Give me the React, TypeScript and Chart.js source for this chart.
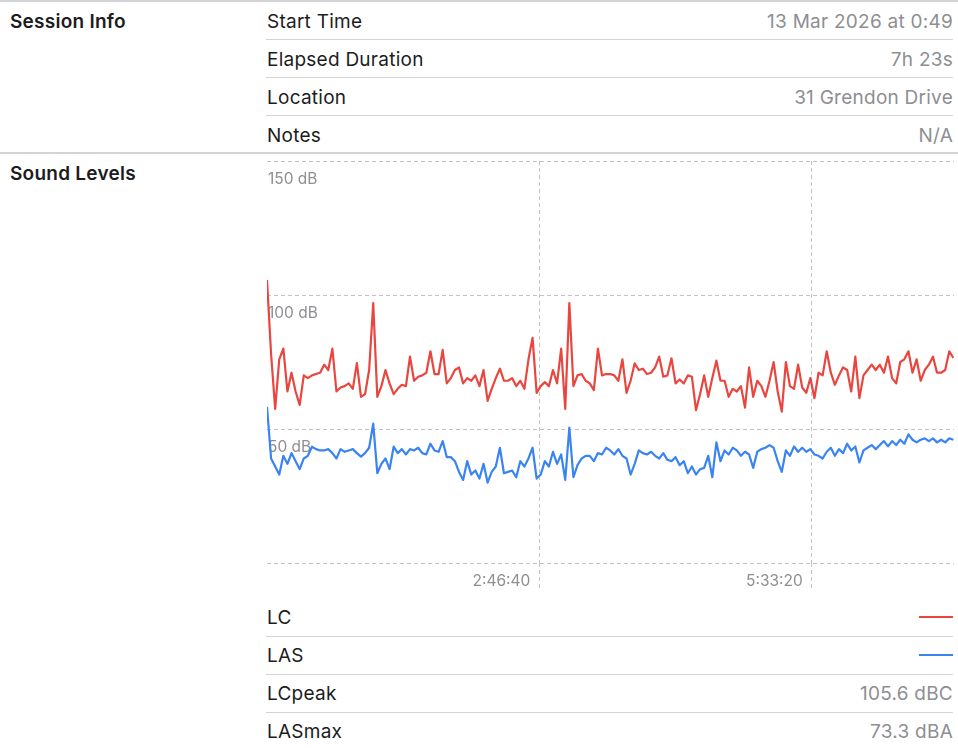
import React, { useEffect, useRef } from 'react';
import { Chart, registerables } from 'chart.js';

Chart.register(...registerables);

// ---------- data ----------
const infoLabels = ['Start Time', 'Elapsed Duration', 'Location', 'Notes'];
const infoValues = ['13 Mar 2026 at 0:49', '7h 23s', '31 Grendon Drive', 'N/A'];

const SAMPLE_SECONDS = 150;
const DURATION_SECONDS = 25223;

const lcValues = [
  105.6, 78, 57.5, 76, 80, 64, 71, 64, 59, 70,
  69, 70, 70.5, 71, 74, 72, 80, 64, 65.5, 66,
  67, 65, 74.6, 62, 63, 72, 97, 62, 66, 72,
  67, 63, 65, 66.5, 66, 77, 68, 69.5, 70, 71,
  79, 70.5, 70.5, 79.5, 67, 69, 72, 73, 67, 69,
  68, 70, 66, 72, 60.5, 65, 69, 72.5, 68, 68,
  69, 66, 68, 65, 76, 84, 63.5, 66, 67.5, 66,
  72, 67, 80, 57.5, 97, 66, 70, 70.5, 68, 67,
  64.5, 80, 70, 70.5, 70.5, 70, 68, 76, 63.5, 68,
  74.5, 72, 72.5, 70.5, 71, 73, 77, 69.5, 70, 76.4,
  67, 68.5, 67, 70, 69.5, 57, 63, 70, 62, 69,
  75.5, 68, 68, 62, 65, 64, 66, 58, 73, 62,
  68, 66, 62, 68, 75, 64, 56.5, 75, 66, 65,
  74, 65.5, 63.5, 69, 61.5, 71, 70, 79, 71, 66.5,
  70, 73, 72, 64, 77, 61.5, 70, 72, 74, 72,
  74, 71, 77, 69, 67, 75, 76, 79, 71, 76,
  68, 72, 74, 77, 71, 71, 72, 79, 76.5,
];

const lasValues = [
  58.3, 39, 36, 33, 40, 37, 41, 38, 35, 39,
  40, 43.4, 42.5, 42, 42, 42.5, 41, 39, 42.5, 41.5,
  42, 42.5, 41, 39.7, 41, 43, 52, 33.5, 37, 39,
  35, 43.4, 41, 42.5, 40.5, 42.5, 42, 43, 41, 40.5,
  44.5, 42, 41.5, 45.5, 39.5, 39.5, 38, 34, 31, 38,
  33, 34.5, 31.5, 37, 30, 34, 36, 43, 33.5, 34,
  34.5, 32, 38, 36, 39, 43, 31.5, 33, 38, 36,
  41.5, 37, 40.5, 31, 50.5, 32, 36.5, 39, 40, 40,
  38, 41, 40.5, 43, 42, 40.5, 42.5, 40, 39, 33,
  37, 42, 41, 40.5, 41.5, 40, 39, 41, 38.5, 38,
  39.5, 36.5, 38, 33.5, 36, 33, 35, 35.5, 40, 32,
  45, 38, 42, 40.5, 43, 42, 40, 41.5, 40.5, 35.5,
  41.5, 42.5, 43, 44, 43, 38, 34, 42, 40, 43.5,
  41.5, 43, 41.5, 42.5, 40.5, 40, 39, 41.5, 43, 40,
  42.5, 41, 44.5, 42, 43.5, 37.5, 42, 43, 44, 42.5,
  44, 45.5, 43.5, 45.5, 44, 46, 44.5, 48, 46, 45,
  46, 46.5, 45.5, 46.5, 45, 46, 45, 46.5, 46,
];

const seriesLabels = ['LC', 'LAS'];
const seriesColors = ['#e8463f', '#3a84f2'];

const xTickValues = [10000, 20000];
const xTickLabels = ['2:46:40', '5:33:20'];
const yTickValues = [0, 50, 100, 150];
const yTickLabels = ['', '50 dB', '100 dB', '150 dB'];

const statLabels = ['LCpeak', 'LASmax'];
const statValues = ['105.6 dBC', '73.3 dBA'];

// ---------- styles ----------
const FONT = 'Inter, "Noto Sans", sans-serif';
const TEXT = '#1c1c1e';
const GRAY = '#8e8e93';
const SEP = '#d4d4d6';
const GRID = '#c2c2c4';
const TEXT_SIZE = 19;
const LETTER = '0.25px';

const SoundChart: React.FC = () => {
  const ref = useRef<HTMLCanvasElement | null>(null);
  useEffect(() => {
    if (!ref.current) return;
    const toPoints = (vals: number[]) => vals.map((v, i) => ({ x: i * SAMPLE_SECONDS, y: v }));
    const chart = new Chart(ref.current, {
      type: 'line',
      data: {
        datasets: [lcValues, lasValues].map((vals, k) => ({
          label: seriesLabels[k],
          data: toPoints(vals),
          borderColor: seriesColors[k],
          backgroundColor: seriesColors[k],
          borderWidth: 2.2,
          pointRadius: 0,
          tension: 0,
          fill: false,
          borderJoinStyle: 'round' as const,
        })),
      },
      options: {
        animation: false,
        responsive: false,
        maintainAspectRatio: false,
        layout: { padding: { left: 5, right: 4, top: 11, bottom: 0 } },
        plugins: { legend: { display: false }, tooltip: { enabled: false } },
        scales: {
          x: {
            type: 'linear',
            min: 0,
            max: DURATION_SECONDS,
            afterBuildTicks: (s: any) => {
              s.ticks = xTickValues.map((v) => ({ value: v }));
            },
            afterFit: (s: any) => {
              s.height = 32;
            },
            grid: {
              color: GRID,
              lineWidth: 1,
              tickLength: 27,
              tickColor: GRID,
              tickBorderDash: [4, 3],
            },
            border: { display: false, dash: [4, 3] },
            ticks: {
              autoSkip: false,
              maxRotation: 0,
              align: 'end',
              labelOffset: -9,
              padding: -18,
              color: GRAY,
              font: { family: FONT, size: 15.5 },
              callback: (v: any) => {
                const i = xTickValues.indexOf(Number(v));
                return i >= 0 ? xTickLabels[i] : '';
              },
            },
          },
          y: {
            min: 0,
            max: 150,
            afterBuildTicks: (s: any) => {
              s.ticks = yTickValues.map((v) => ({ value: v }));
            },
            afterFit: (s: any) => {
              s.width = 0;
            },
            grid: { color: GRID, lineWidth: 1, drawTicks: false },
            border: { display: false, dash: [4, 3] },
            ticks: {
              mirror: true,
              padding: 1,
              labelOffset: 18,
              color: GRAY,
              font: { family: FONT, size: 15.5 },
              callback: (v: any) => {
                const i = yTickValues.indexOf(Number(v));
                return i >= 0 ? yTickLabels[i] : '';
              },
            },
          },
        },
      } as any,
    });
    return () => chart.destroy();
  }, []);
  return (
    <canvas
      ref={ref}
      width={696}
      height={445}
      style={{ position: 'absolute', left: 262, top: 150, width: 696, height: 445 }}
    />
  );
};

const Row: React.FC<{ top: number; label: string; value?: string; swatch?: string }> = ({ top, label, value, swatch }) => (
  <div
    style={{
      position: 'absolute',
      left: 267,
      top,
      width: 686,
      height: 38,
      display: 'flex',
      alignItems: 'center',
      justifyContent: 'space-between',
      fontSize: TEXT_SIZE,
      letterSpacing: LETTER,
    }}
  >
    <span style={{ color: TEXT }}>{label}</span>
    {value !== undefined && <span style={{ color: GRAY }}>{value}</span>}
    {swatch && <span style={{ display: 'inline-block', width: 34, height: 2, background: swatch }} />}
  </div>
);

const Sep: React.FC<{ top: number; full?: boolean }> = ({ top, full }) => (
  <div
    style={{
      position: 'absolute',
      left: full ? 0 : 266,
      top,
      width: full ? 958 : 687,
      height: full ? 2 : 1,
      background: SEP,
    }}
  />
);

const headStyle: React.CSSProperties = {
  position: 'absolute',
  left: 10,
  height: 38,
  display: 'flex',
  alignItems: 'center',
  fontSize: TEXT_SIZE,
  letterSpacing: LETTER,
  fontWeight: 600,
  color: TEXT,
};

export default function App() {
  useEffect(() => {
    document.body.style.margin = '0';
  }, []);
  return (
    <div style={{ position: 'relative', width: 958, height: 748, background: '#fff', fontFamily: FONT, overflow: 'hidden' }}>
      <Sep top={0} full />
      <div style={{ ...headStyle, top: 2 }}>Session Info</div>
      {infoLabels.map((l, i) => (
        <Row key={l} top={2 + 38 * i} label={l} value={infoValues[i]} />
      ))}
      <Sep top={39} />
      <Sep top={77} />
      <Sep top={115} />
      <Sep top={152} full />
      <div style={{ ...headStyle, top: 154 }}>Sound Levels</div>
      <SoundChart />
      {seriesLabels.map((l, i) => (
        <Row key={l} top={598 + 38 * i} label={l} swatch={seriesColors[i]} />
      ))}
      {statLabels.map((l, i) => (
        <Row key={l} top={674 + 38 * i} label={l} value={statValues[i]} />
      ))}
      <Sep top={636} />
      <Sep top={674} />
      <Sep top={712} />
    </div>
  );
}
